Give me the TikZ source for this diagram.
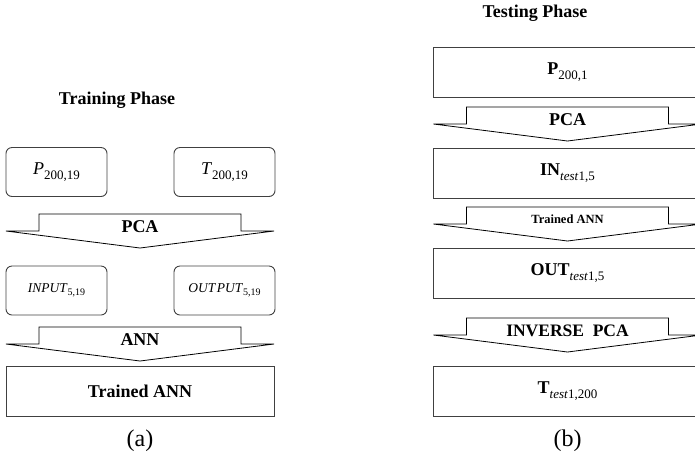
\documentclass[tikz,border=0pt]{standalone}
\usepackage{fontspec}
\setmainfont{Liberation Serif}
\newcommand{\lsub}[1]{\raisebox{-0.28em}{\fontsize{13}{13}\selectfont #1}}
\newcommand{\ssub}[1]{\raisebox{-0.25em}{\fontsize{10}{10}\selectfont #1}}
\newcommand{\bigdown}[5]{%
  \draw[fatarrow] (#2-134,#3+17) -- (#2-101,#3+17) -- (#2-101,#3) -- (#2+101,#3)
    -- (#2+101,#3+17) -- (#2+134,#3+17) -- (#2,#3+34) -- cycle;
  \node[lbl] (#1) at (#2,#3+12.5) {#4#5};}
\begin{document}
\begin{tikzpicture}[x=1pt,y=-1pt,
  rbox/.style={draw=black!75, line width=0.9pt, rounded corners=6pt, minimum width=101pt, minimum height=49pt, inner sep=0pt},
  sbox/.style={draw=black!75, line width=0.9pt, minimum width=269pt, minimum height=50pt, inner sep=0pt},
  fatarrow/.style={draw=black, line width=0.8pt, fill=white, line join=miter},
  lbl/.style={inner sep=0pt},
  big/.style={font=\fontsize{18}{20}\selectfont},
  bigb/.style={font=\fontsize{18}{20}\selectfont\bfseries},
  small/.style={font=\fontsize{13.5}{15}\selectfont}]
\useasboundingbox (0,0) rectangle (695,459);
\clip (0,0) rectangle (695,459);
% ---------- (a) Training ----------
\node[bigb] (trt) at (117,100) {Training Phase};
\node[rbox, big] (p) at (56.5,172) {\textit{P}\lsub{200,19}};
\node[rbox, big] (t) at (224.5,172) {\textit{T}\lsub{200,19}};
\bigdown{pcaa}{140}{214}{\fontsize{18}{20}\selectfont\bfseries}{PCA}
\node[rbox, small] (in) at (56.5,290.5) {\textit{INPUT}\ssub{5,19}};
\node[rbox, small] (out) at (224.5,290.5) {\textit{OUT\kern1.5pt PUT}\ssub{5,19}};
\bigdown{anna}{140}{327}{\fontsize{18}{20}\selectfont\bfseries}{ANN}
\node[sbox, bigb, minimum width=268pt] (tann) at (140,391) {Trained ANN};
\node[font=\fontsize{24}{26}\selectfont] (la) at (140,441) {(a)};
% ---------- (b) Testing ----------
\node[bigb] (tet) at (535,13) {Testing Phase};
\node[sbox, big] (pt) at (567.5,72) {\textbf{P}\lsub{200,1}};
\bigdown{pcab}{567.5}{107}{\fontsize{18}{20}\selectfont\bfseries}{PCA}
\node[sbox, big] (int) at (567.5,173) {\textbf{IN}\lsub{\textit{test}1,5}};
\bigdown{annb}{567.5}{207}{\fontsize{12.5}{14}\selectfont\bfseries}{Trained ANN}
\node[sbox, big] (outt) at (567.5,273) {\textbf{OUT}\lsub{\textit{test}1,5}};
\bigdown{ipca}{567.5}{318}{\fontsize{17.5}{20}\selectfont\bfseries}{INVERSE\ \ PCA}
\node[sbox, big] (tt) at (567.5,391) {\textbf{T}\lsub{\textit{test}1,200}};
\node[font=\fontsize{24}{26}\selectfont] (lb) at (567.5,441) {(b)};
\end{tikzpicture}
\end{document}
